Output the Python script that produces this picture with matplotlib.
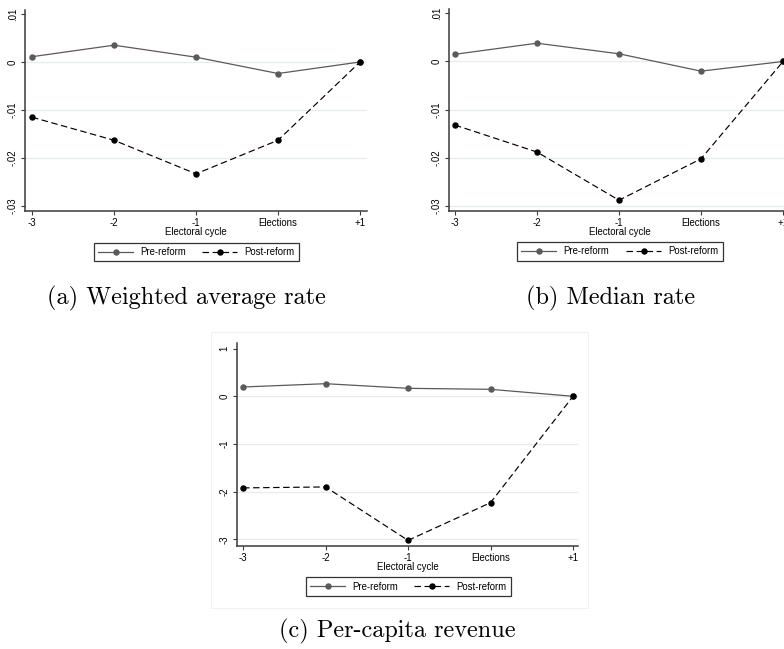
import matplotlib
matplotlib.use("Agg")
import matplotlib.pyplot as plt
from matplotlib.patches import Rectangle
from matplotlib.transforms import blended_transform_factory

# Electoral-cycle positions and labels
cycle_pos = [-3, -2, -1, 0, 1]
cycle_labels = ["-3", "-2", "-1", "Elections", "+1"]

# (a) Weighted average rate
wavg_pre = [0.0011, 0.0035, 0.0010, -0.0024, 0.0]
wavg_post = [-0.0115, -0.0163, -0.0233, -0.0163, 0.0]
wavg_yticks = [0.01, 0.0, -0.01, -0.02, -0.03]
wavg_ylabels = [".01", "0", "-.01", "-.02", "-.03"]

# (b) Median rate
med_pre = [0.0015, 0.0038, 0.0016, -0.0020, 0.0]
med_post = [-0.0132, -0.0188, -0.0288, -0.0202, 0.0]
med_yticks = [0.01, 0.0, -0.01, -0.02, -0.03]
med_ylabels = [".01", "0", "-.01", "-.02", "-.03"]

# (c) Per-capita revenue
pc_pre = [0.195, 0.264, 0.167, 0.146, 0.0]
pc_post = [-1.92, -1.90, -3.02, -2.23, 0.0]
pc_yticks = [1, 0, -1, -2, -3]
pc_ylabels = ["1", "0", "-1", "-2", "-3"]

series_names = ["Pre-reform", "Post-reform"]
captions = ["(a) Weighted average rate", "(b) Median rate", "(c) Per-capita revenue"]

W, H = 784, 649
fig = plt.figure(figsize=(W / 100, H / 100), dpi=100)
fig.patch.set_facecolor("white")

SANS = "Liberation Sans"
FS = 6.9
GRID = "#E4EEEF"
SPINE = "#3a3a3a"
PRE_C = "#5a5a5a"


def rect(left, top, right, bottom):
    return [left / W, 1 - bottom / H, (right - left) / W, (bottom - top) / H]


def fig_xy(x, y):
    return x / W, 1 - y / H


def panel(box, xlim, ylim, pre, post, yticks, ylabels, grid_ticks, legend_box, xlabel_y):
    ax = fig.add_axes(rect(*box))
    for t in grid_ticks:
        ax.axhline(t, color=GRID, lw=0.9, zorder=0)
    ax.plot(cycle_pos, pre, color=PRE_C, lw=0.9, marker="o", ms=3.6,
            mfc=PRE_C, mec=PRE_C, label=series_names[0], zorder=3)
    ax.plot(cycle_pos, post, color="black", lw=0.85, dashes=(5.5, 3), marker="o",
            ms=3.6, mfc="black", mec="black", label=series_names[1], zorder=4)
    ax.set_xlim(*xlim)
    ax.set_ylim(*ylim)
    ax.set_xticks(cycle_pos)
    ax.set_xticklabels(cycle_labels, fontfamily=SANS, fontsize=FS)
    ax.set_yticks(yticks)
    ax.set_yticklabels(ylabels, fontfamily=SANS, fontsize=FS, rotation=90,
                       va="center")
    ax.tick_params(axis="both", length=3.2, width=0.8, color=SPINE, pad=2)
    for s in ("top", "right"):
        ax.spines[s].set_visible(False)
    for s in ("left", "bottom"):
        ax.spines[s].set_color(SPINE)
        ax.spines[s].set_linewidth(1.1)
    ax.set_facecolor("none")

    # axis title, centred under the plotted range
    x_mid = (xlim[0] + xlim[1]) / 2
    ax.text(x_mid, 1 - xlabel_y / H, "Electoral cycle",
            transform=blended_transform_factory(ax.transData, fig.transFigure),
            fontfamily=SANS, fontsize=FS, ha="center", va="center")

    # boxed legend below the axis
    lx0, ly0, lx1, ly1 = legend_box
    leg = fig.legend(*ax.get_legend_handles_labels(), ncol=2, loc="center",
                     bbox_to_anchor=(lx0 / W, 1 - ly1 / H, (lx1 - lx0) / W, (ly1 - ly0) / H),
                     mode="expand", prop={"family": SANS, "size": FS},
                     frameon=True, fancybox=False, edgecolor="black",
                     handlelength=3.6, handletextpad=0.8, columnspacing=1.6,
                     borderpad=0.45, borderaxespad=0, numpoints=1)
    leg.get_frame().set_linewidth(0.9)
    return ax


# (a)
panel(box=(25, 10, 367, 211), xlim=(-3.085, 1.085), ylim=(-0.03104, 0.01083),
      pre=wavg_pre, post=wavg_post, yticks=wavg_yticks, ylabels=wavg_ylabels,
      grid_ticks=[0.0, -0.01, -0.02], legend_box=(94, 242, 299, 262), xlabel_y=232)

# (b)
panel(box=(449, 9, 790, 211), xlim=(-3.073, 1.085), ylim=(-0.03104, 0.01090),
      pre=med_pre, post=med_post, yticks=med_yticks, ylabels=med_ylabels,
      grid_ticks=[0.0, -0.01, -0.02, -0.03], legend_box=(517, 242, 723, 261),
      xlabel_y=232)

# (c) with its light graph-region frame
fig.patches.append(Rectangle(fig_xy(211, 608), 377 / W, 276 / H, transform=fig.transFigure,
                             fill=False, edgecolor="#EEF2F3", lw=0.8, zorder=0))
panel(box=(237, 343, 578, 546), xlim=(-3.073, 1.06), ylim=(-3.138, 1.117),
      pre=pc_pre, post=pc_post, yticks=pc_yticks, ylabels=pc_ylabels,
      grid_ticks=[0, -1, -2, -3], legend_box=(306, 577, 511, 596), xlabel_y=567)

# captions
cap_font = dict(family="cmr10", size=17.5, ha="center", va="center")
fig.text(*fig_xy(186, 298), captions[0], **cap_font)
fig.text(*fig_xy(611, 298), captions[1], **cap_font)
fig.text(*fig_xy(397, 631), captions[2], **cap_font)

fig.savefig("out.png", dpi=100, facecolor="white")
